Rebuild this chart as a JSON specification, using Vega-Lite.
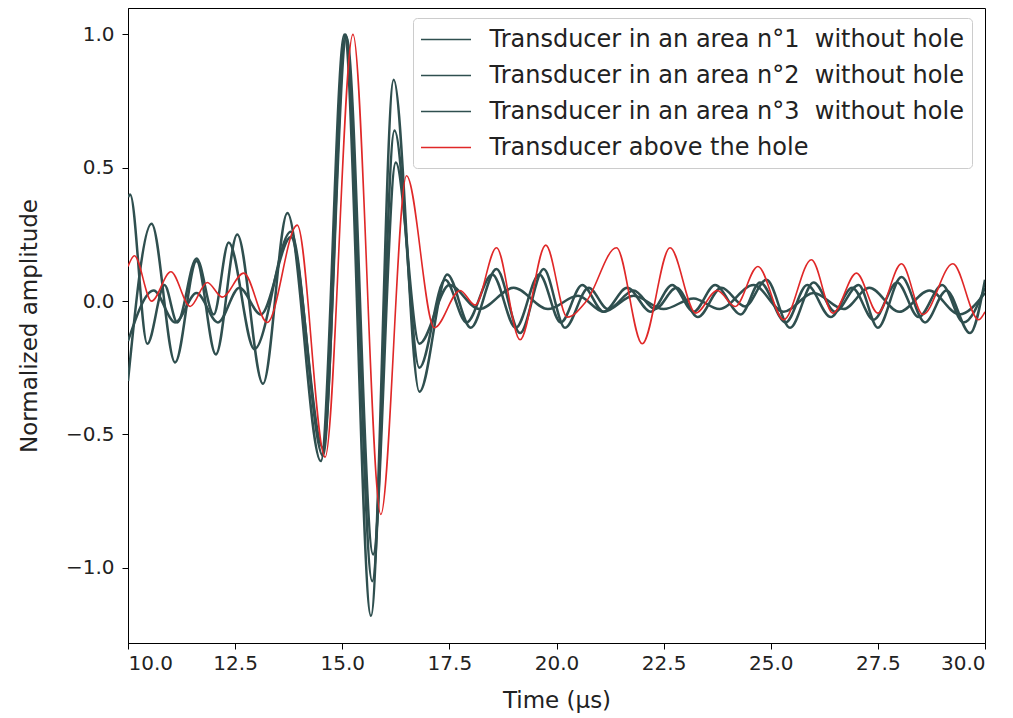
{
  "$schema": "https://vega.github.io/schema/vega-lite/v6.json",
  "width": 857,
  "height": 635,
  "autosize": {"type": "none"},
  "padding": {"left": 128, "top": 8, "right": 28, "bottom": 75},
  "background": "white",
  "config": {
    "view": {"stroke": "black", "strokeWidth": 1},
    "font": "DejaVu Sans",
    "axis": {"grid": false, "domainColor": "black", "tickColor": "black", "labelColor": "#222", "titleColor": "#222", "labelFontSize": 20, "titleFontSize": 23, "titleFontWeight": "normal", "tickSize": 6}
  },
  "datasets": {
    "g1": [
      {"t": 10.0, "a": -0.30}, {"t": 10.55, "a": 0.29}, {"t": 11.1, "a": -0.23}, {"t": 11.6, "a": 0.15}, {"t": 12.05, "a": -0.20}, {"t": 12.55, "a": 0.25}, {"t": 13.15, "a": -0.31}, {"t": 13.72, "a": 0.33}, {"t": 14.5, "a": -0.60}, {"t": 15.05, "a": 1.0}, {"t": 15.67, "a": -1.18}, {"t": 16.2, "a": 0.83}, {"t": 16.8, "a": -0.34}, {"t": 17.45, "a": 0.10}, {"t": 18.0, "a": -0.10}, {"t": 18.6, "a": 0.12}, {"t": 19.15, "a": -0.12}, {"t": 19.7, "a": 0.12}, {"t": 20.2, "a": -0.10}, {"t": 20.75, "a": 0.05}, {"t": 21.2, "a": -0.03}, {"t": 21.8, "a": 0.04}, {"t": 22.3, "a": -0.03}, {"t": 22.8, "a": 0.05}, {"t": 23.3, "a": -0.06}, {"t": 23.85, "a": 0.05}, {"t": 24.4, "a": -0.02}, {"t": 24.9, "a": 0.08}, {"t": 25.45, "a": -0.10}, {"t": 26.0, "a": 0.07}, {"t": 26.5, "a": -0.04}, {"t": 27.05, "a": 0.06}, {"t": 27.5, "a": -0.10}, {"t": 28.05, "a": 0.09}, {"t": 28.6, "a": -0.08}, {"t": 29.1, "a": 0.04}, {"t": 29.65, "a": -0.12}, {"t": 30.0, "a": 0.08}
    ],
    "g2": [
      {"t": 10.0, "a": 0.39}, {"t": 10.05, "a": 0.40}, {"t": 10.45, "a": -0.16}, {"t": 10.85, "a": 0.06}, {"t": 11.15, "a": -0.08}, {"t": 11.6, "a": 0.16}, {"t": 12.0, "a": -0.05}, {"t": 12.35, "a": 0.22}, {"t": 12.95, "a": -0.18}, {"t": 13.8, "a": 0.26}, {"t": 14.55, "a": -0.58}, {"t": 15.08, "a": 1.0}, {"t": 15.7, "a": -1.05}, {"t": 16.22, "a": 0.64}, {"t": 16.8, "a": -0.25}, {"t": 17.4, "a": 0.08}, {"t": 17.9, "a": -0.08}, {"t": 18.5, "a": 0.10}, {"t": 19.05, "a": -0.10}, {"t": 19.6, "a": 0.10}, {"t": 20.1, "a": -0.08}, {"t": 20.6, "a": 0.06}, {"t": 21.1, "a": -0.04}, {"t": 21.65, "a": 0.05}, {"t": 22.2, "a": -0.04}, {"t": 22.7, "a": 0.06}, {"t": 23.2, "a": -0.04}, {"t": 23.7, "a": 0.06}, {"t": 24.3, "a": -0.05}, {"t": 24.75, "a": 0.07}, {"t": 25.35, "a": -0.08}, {"t": 25.85, "a": 0.06}, {"t": 26.4, "a": -0.06}, {"t": 26.9, "a": 0.05}, {"t": 27.4, "a": -0.07}, {"t": 27.95, "a": 0.07}, {"t": 28.45, "a": -0.06}, {"t": 29.0, "a": 0.06}, {"t": 29.5, "a": -0.08}, {"t": 30.0, "a": 0.05}
    ],
    "g3": [
      {"t": 10.0, "a": -0.15}, {"t": 10.6, "a": 0.04}, {"t": 11.1, "a": -0.08}, {"t": 11.6, "a": 0.03}, {"t": 12.1, "a": -0.08}, {"t": 12.6, "a": 0.05}, {"t": 13.1, "a": -0.05}, {"t": 13.8, "a": 0.24}, {"t": 14.55, "a": -0.55}, {"t": 15.1, "a": 0.99}, {"t": 15.72, "a": -0.95}, {"t": 16.25, "a": 0.52}, {"t": 16.8, "a": -0.16}, {"t": 17.5, "a": 0.06}, {"t": 18.2, "a": -0.03}, {"t": 19.0, "a": 0.05}, {"t": 19.8, "a": -0.03}, {"t": 20.5, "a": 0.02}, {"t": 21.1, "a": -0.04}, {"t": 21.8, "a": 0.02}, {"t": 22.5, "a": -0.03}, {"t": 23.2, "a": 0.01}, {"t": 23.8, "a": -0.03}, {"t": 24.6, "a": 0.06}, {"t": 25.3, "a": -0.04}, {"t": 26.0, "a": 0.03}, {"t": 26.7, "a": -0.03}, {"t": 27.3, "a": 0.05}, {"t": 28.0, "a": -0.04}, {"t": 28.7, "a": 0.04}, {"t": 29.4, "a": -0.05}, {"t": 30.0, "a": 0.03}
    ],
    "red": [
      {"t": 10.0, "a": 0.13}, {"t": 10.15, "a": 0.17}, {"t": 10.55, "a": 0.0}, {"t": 11.0, "a": 0.11}, {"t": 11.45, "a": -0.02}, {"t": 11.85, "a": 0.07}, {"t": 12.2, "a": 0.015}, {"t": 12.7, "a": 0.105}, {"t": 13.25, "a": -0.08}, {"t": 13.95, "a": 0.285}, {"t": 14.6, "a": -0.585}, {"t": 15.25, "a": 1.0}, {"t": 15.9, "a": -0.80}, {"t": 16.5, "a": 0.47}, {"t": 17.15, "a": -0.10}, {"t": 17.75, "a": 0.04}, {"t": 18.1, "a": -0.015}, {"t": 18.6, "a": 0.20}, {"t": 19.15, "a": -0.145}, {"t": 19.75, "a": 0.21}, {"t": 20.25, "a": -0.06}, {"t": 20.7, "a": 0.0}, {"t": 21.4, "a": 0.20}, {"t": 22.0, "a": -0.16}, {"t": 22.65, "a": 0.20}, {"t": 23.25, "a": -0.045}, {"t": 23.75, "a": 0.04}, {"t": 24.17, "a": -0.02}, {"t": 24.7, "a": 0.13}, {"t": 25.3, "a": -0.07}, {"t": 25.95, "a": 0.155}, {"t": 26.45, "a": -0.045}, {"t": 27.0, "a": 0.105}, {"t": 27.5, "a": -0.045}, {"t": 28.05, "a": 0.14}, {"t": 28.55, "a": -0.05}, {"t": 29.25, "a": 0.14}, {"t": 29.85, "a": -0.07}, {"t": 30.0, "a": -0.04}
    ]
  },
  "layer": [
    {
      "data": {"name": "g1"},
      "transform": [{"calculate": "'Transducer in an area n°1\u00a0 without hole'", "as": "series"}],
      "mark": {"type": "line", "interpolate": "monotone", "strokeWidth": 2.5, "clip": true},
      "encoding": {
        "x": {"field": "t", "type": "quantitative"},
        "y": {"field": "a", "type": "quantitative"},
        "color": {"field": "series", "type": "nominal"}
      }
    },
    {
      "data": {"name": "g2"},
      "transform": [{"calculate": "'Transducer in an area n°2\u00a0 without hole'", "as": "series"}],
      "mark": {"type": "line", "interpolate": "monotone", "strokeWidth": 2.5, "clip": true},
      "encoding": {
        "x": {"field": "t", "type": "quantitative"},
        "y": {"field": "a", "type": "quantitative"},
        "color": {"field": "series", "type": "nominal"}
      }
    },
    {
      "data": {"name": "g3"},
      "transform": [{"calculate": "'Transducer in an area n°3\u00a0 without hole'", "as": "series"}],
      "mark": {"type": "line", "interpolate": "monotone", "strokeWidth": 2.5, "clip": true},
      "encoding": {
        "x": {"field": "t", "type": "quantitative"},
        "y": {"field": "a", "type": "quantitative"},
        "color": {"field": "series", "type": "nominal"}
      }
    },
    {
      "data": {"name": "red"},
      "transform": [{"calculate": "'Transducer above the hole'", "as": "series"}],
      "mark": {"type": "line", "interpolate": "monotone", "strokeWidth": 1.6, "clip": true},
      "encoding": {
        "x": {"field": "t", "type": "quantitative", "scale": {"domain": [10, 30], "nice": false, "zero": false},
          "axis": {"title": "Time (µs)", "values": [10, 12.5, 15, 17.5, 20, 22.5, 25, 27.5, 30], "format": ".1f", "labelPadding": 4, "titlePadding": 16}},
        "y": {"field": "a", "type": "quantitative", "scale": {"domain": [-1.282, 1.099], "nice": false, "zero": false},
          "axis": {"title": "Normalized amplitude", "values": [-1, -0.5, 0, 0.5, 1], "labelExpr": "replace(format(datum.value, '.1f'), '-', '−')", "labelPadding": 8, "titlePadding": 24}},
        "color": {"field": "series", "type": "nominal",
          "scale": {"domain": ["Transducer in an area n°1\u00a0 without hole", "Transducer in an area n°2\u00a0 without hole", "Transducer in an area n°3\u00a0 without hole", "Transducer above the hole"], "range": ["#2f4f4f", "#2f4f4f", "#2f4f4f", "#e02828"]},
          "legend": {"title": null, "orient": "none", "legendX": 285, "legendY": 10, "symbolType": "M-2,0L2,0", "symbolSize": 625, "symbolOffset": 11.5, "symbolStrokeWidth": 1.5, "labelFontSize": 24, "labelColor": "#222", "labelLimit": 700, "rowPadding": 10, "padding": 8, "strokeColor": "#cccccc", "fillColor": "white", "cornerRadius": 4, "labelOffset": 30}}
      }
    }
  ]
}
